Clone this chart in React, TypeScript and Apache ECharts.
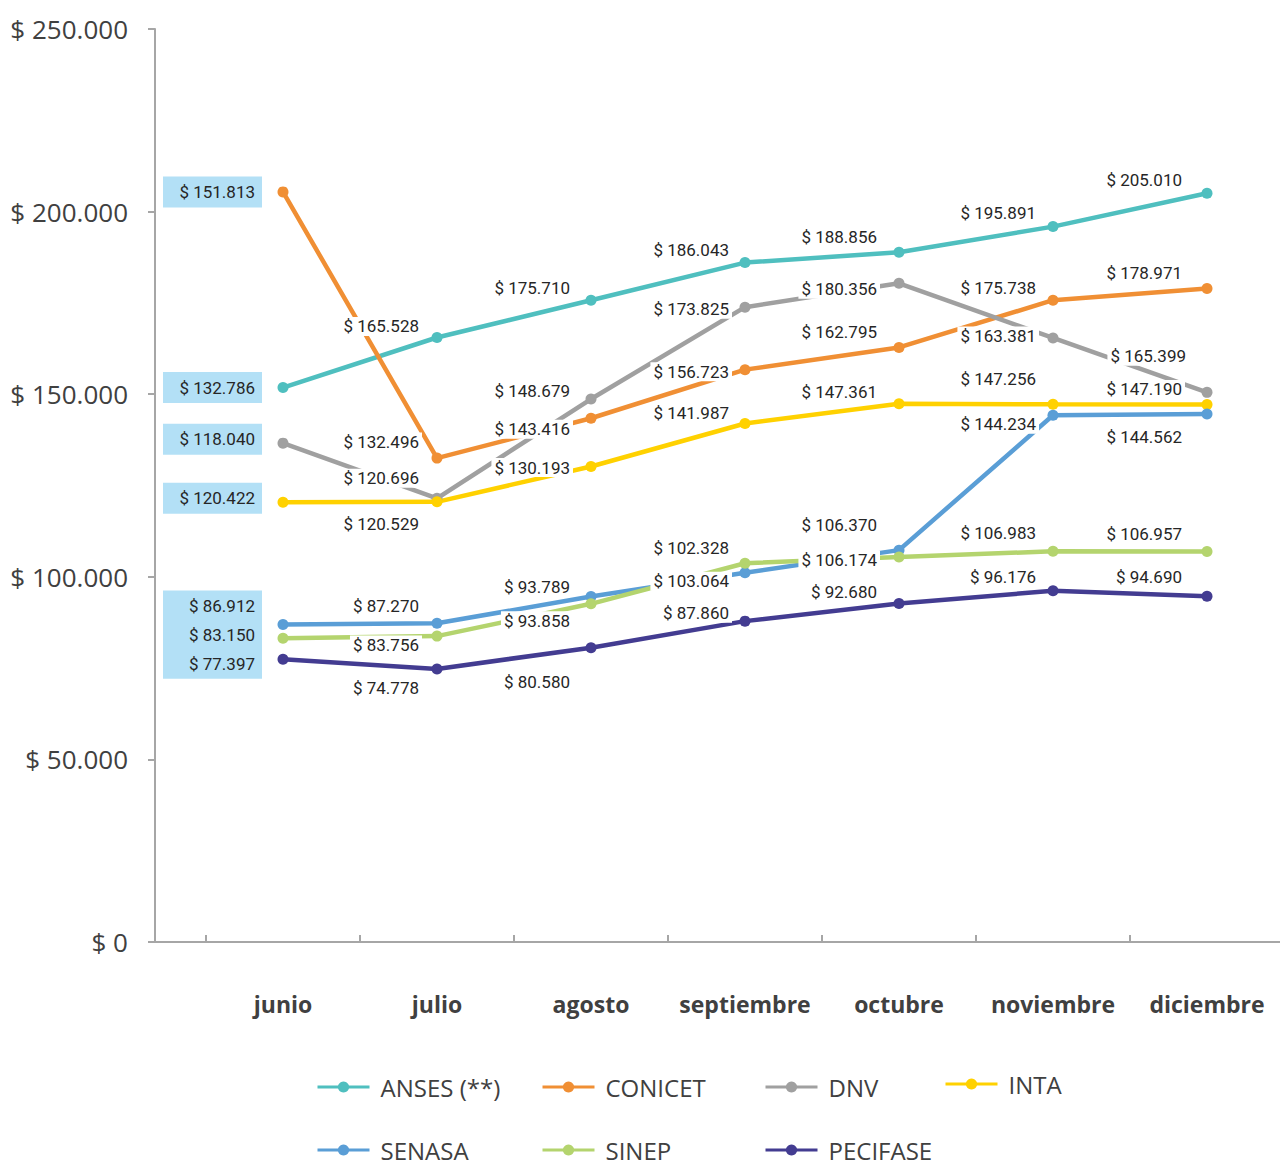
import React, { useEffect, useRef } from 'react';
import * as echarts from 'echarts';

const MONTHS = ['junio', 'julio', 'agosto', 'septiembre', 'octubre', 'noviembre', 'diciembre'];
const SERIES_NAMES = ['ANSES (**)', 'CONICET', 'DNV', 'INTA', 'SENASA', 'SINEP', 'PECIFASE'];
const COLORS = ['#4FBFBF', '#F08F34', '#A0A0A0', '#FFD100', '#5A9ED6', '#B4D46E', '#433C91'];

// plotted values (as drawn)
const ANSES = [151813, 165528, 175710, 186043, 188856, 195891, 205010];
const CONICET = [205400, 132496, 143416, 156723, 162795, 175738, 178971];
const DNV = [136600, 121500, 148679, 173825, 180356, 165399, 150500];
const INTA = [120422, 120529, 130193, 141987, 147361, 147256, 147190];
const SENASA = [86912, 87270, 94600, 101100, 107300, 144234, 144562];
const SINEP = [83150, 83756, 92600, 103700, 105400, 106983, 106957];
const PECIFASE = [77397, 74778, 80580, 87860, 92680, 96176, 94690];

// data labels as printed on the chart
const ANSES_LABELS = ['$ 132.786', '$ 165.528', '$ 175.710', '$ 186.043', '$ 188.856', '$ 195.891', '$ 205.010'];
const CONICET_LABELS = ['$ 151.813', '$ 132.496', '$ 143.416', '$ 156.723', '$ 162.795', '$ 175.738', '$ 178.971'];
const DNV_LABELS = ['$ 118.040', '$ 120.696', '$ 148.679', '$ 173.825', '$ 180.356', '$ 163.381', '$ 165.399'];
const INTA_LABELS = ['$ 120.422', '$ 120.529', '$ 130.193', '$ 141.987', '$ 147.361', '$ 147.256', '$ 147.190'];
const SENASA_LABELS = ['$ 86.912', '$ 87.270', '$ 93.789', '$ 102.328', '$ 106.370', '$ 144.234', '$ 144.562'];
const SINEP_LABELS = ['$ 83.150', '$ 83.756', '$ 93.858', '$ 103.064', '$ 106.174', '$ 106.983', '$ 106.957'];
const PECIFASE_LABELS = ['$ 77.397', '$ 74.778', '$ 80.580', '$ 87.860', '$ 92.680', '$ 96.176', '$ 94.690'];

const VALUES = [ANSES, CONICET, DNV, INTA, SENASA, SINEP, PECIFASE];
const LABELS = [ANSES_LABELS, CONICET_LABELS, DNV_LABELS, INTA_LABELS, SENASA_LABELS, SINEP_LABELS, PECIFASE_LABELS];

// ---- label layout (pixels relative to each point) ----
const LABEL_END = [-21, -18, -21, -16, -22, -17, -25];
const LABEL_DY = [
  [0, -11, -12, -13, -15, -14, -13],
  [0, -16, 11, 2, -15, -12, -15],
  [-4, -20, -8, 2, 6, -2, -36],
  [-4, 22, 1, -10, -12, -25, -15],
  [-19, -17, -10, -25, -25, 9, 23],
  [-3.5, 9, 17, 18, 3, -18, -17],
  [4.5, 19, 34, -8, -12, -14, -19],
];
const LABEL_DX_FIX: Record<string, number> = { '2-6': 4 };
const BOX_H = [31, 31, 31, 31, 30, 30, 30];

const LEGEND_POS = [
  [316, 1075], [541, 1075], [764, 1075], [944, 1072],
  [316, 1138], [541, 1138], [764, 1138],
];

const LABEL_FONT = "'Roboto', 'Noto Sans', sans-serif";
const MAIN_FONT = "'Open Sans', 'Noto Sans', sans-serif";

function fmt(v: number) {
  return '$ ' + String(Math.round(v)).replace(/\B(?=(\d{3})+(?!\d))/g, '.');
}

export default function App() {
  const ref = useRef<HTMLDivElement>(null);
  useEffect(() => {
    if (!ref.current) return;
    const chart = echarts.init(ref.current, null, { renderer: 'svg' });

    const series = SERIES_NAMES.map((name, s) => ({
      name,
      type: 'line',
      color: COLORS[s],
      symbol: 'circle',
      symbolSize: 11,
      lineStyle: { width: 4.5, color: COLORS[s] },
      itemStyle: { color: COLORS[s] },
      data: VALUES[s].map((v, i) => {
        const fix = LABEL_DX_FIX[`${s}-${i}`] || 0;
        const isBox = i === 0;
        const label = isBox
          ? {
              show: true,
              position: 'inside',
              align: 'right',
              verticalAlign: 'middle',
              offset: [LABEL_END[0], LABEL_DY[s][0]],
              formatter: LABELS[s][i],
              backgroundColor: '#B3E0F6',
              width: 92,
              height: BOX_H[s],
              lineHeight: BOX_H[s],
              padding: [0, 7, 0, 0],
              color: '#262626',
              fontFamily: LABEL_FONT,
              fontSize: 17,
            }
          : {
              show: true,
              position: 'inside',
              align: 'right',
              verticalAlign: 'middle',
              offset: [LABEL_END[i] + 3 + fix, LABEL_DY[s][i]],
              formatter: LABELS[s][i],
              backgroundColor: '#ffffff',
              padding: [1, 3, 1, 3],
              color: '#262626',
              fontFamily: LABEL_FONT,
              fontSize: 17,
            };
        return { value: v, label };
      }),
    }));

    const option: any = {
      animation: false,
      backgroundColor: '#ffffff',
      grid: { left: 206, top: 29, width: 1078, bottom: 223, containLabel: false, outerBoundsMode: 'none' },
      xAxis: {
        type: 'category',
        data: MONTHS,
        boundaryGap: true,
        axisLine: { show: false },
        axisTick: { show: true, interval: 0, inside: true, length: 7, lineStyle: { color: '#A6A6A6', width: 2 } },
        axisLabel: {
          interval: 0,
          margin: 50,
          fontFamily: MAIN_FONT,
          fontWeight: 'bold',
          fontSize: 23,
          color: '#404040',
        },
        splitLine: { show: false },
      },
      yAxis: {
        type: 'value',
        min: 0,
        max: 250000,
        interval: 50000,
        offset: 51,
        axisLine: { show: true, lineStyle: { color: '#A6A6A6', width: 2 } },
        axisTick: { show: true, length: 7, lineStyle: { color: '#A6A6A6', width: 2 } },
        axisLabel: {
          margin: 27,
          formatter: (v: number) => fmt(v),
          fontFamily: MAIN_FONT,
          fontSize: 26,
          color: '#404040',
        },
        splitLine: { show: false },
      },
      legend: SERIES_NAMES.map((n, i) => ({
        data: [n],
        left: LEGEND_POS[i][0],
        top: LEGEND_POS[i][1],
        padding: 0,
        itemWidth: 52,
        itemHeight: 14,
        selectedMode: false,
        lineStyle: { width: 3 },
        textStyle: {
          fontFamily: MAIN_FONT,
          fontSize: 24,
          color: '#404040',
          padding: [0, 0, 0, 6],
        },
      })),
      graphic: [
        {
          type: 'line',
          shape: { x1: 155, y1: 942, x2: 1280, y2: 942 },
          style: { stroke: '#A6A6A6', lineWidth: 2 },
          z: 1,
        },
      ],
      series,
    };
    chart.setOption(option);
    return () => chart.dispose();
  }, []);

  return (
    <div
      ref={ref}
      style={{ position: 'absolute', left: 0, top: 0, width: 1280, height: 1165, background: '#fff' }}
    />
  );
}
